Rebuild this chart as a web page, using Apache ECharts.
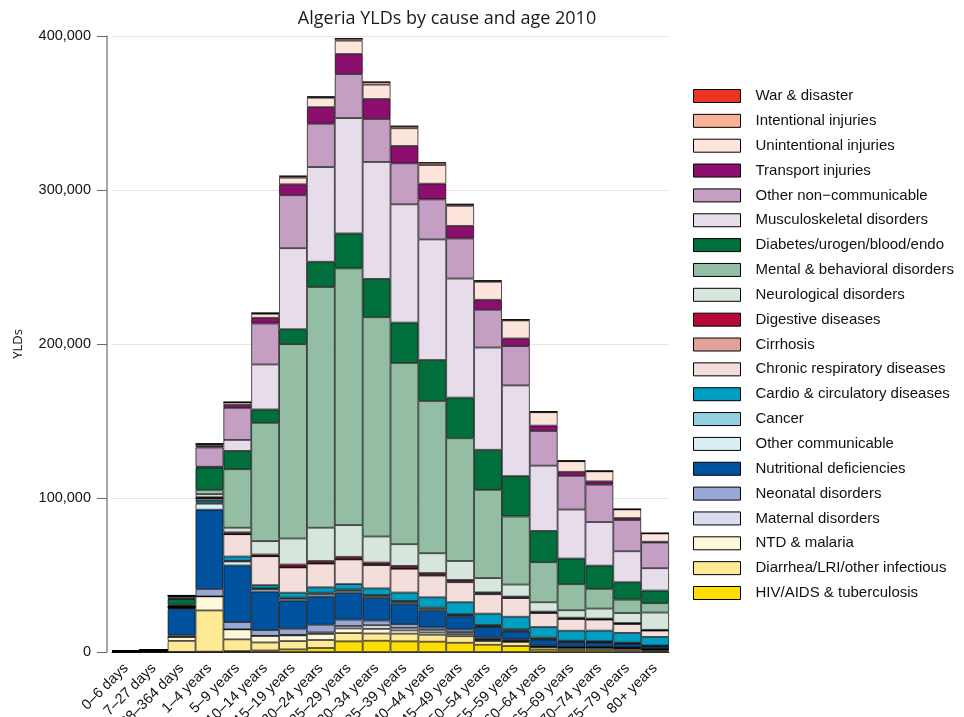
<!DOCTYPE html>
<html><head><meta charset="utf-8">
<script src="https://cdn.jsdelivr.net/npm/echarts@6/dist/echarts.min.js"></script>
<style>html,body{margin:0;padding:0;background:#fff}#c{width:964px;height:717px}</style>
</head><body><div id="c"></div>
<script>
const categories = ["0–6 days","7–27 days","28–364 days","1–4 years","5–9 years","10–14 years","15–19 years","20–24 years","25–29 years","30–34 years","35–39 years","40–44 years","45–49 years","50–54 years","55–59 years","60–64 years","65–69 years","70–74 years","75–79 years","80+ years"];
const yTicks = [0, 100000, 200000, 300000, 400000];

const hivTb        = [0,0,100,200,600,1000,1700,2600,6900,7300,6900,6700,6000,4700,3900,1500,1300,1300,1100,800];
const diarrheaLri  = [200,500,7100,26800,7600,5200,5400,5200,5400,4700,5000,4500,4300,2400,2600,1500,1300,1300,1100,700];
const ntdMalaria   = [100,200,2600,9100,6500,4300,3700,3900,3000,3000,2100,1500,1300,700,600,500,400,400,400,300];
const maternal     = [0,0,0,0,0,0,300,1000,1600,2400,1700,1700,1300,600,300,0,0,0,0,0];
const neonatal     = [300,400,1300,4800,4700,3700,4000,5000,4100,3000,2400,1500,1700,900,800,600,500,400,400,300];
const nutritional  = [100,400,16900,51500,36800,25100,18200,18400,17500,14700,13200,10800,8600,6900,5200,3900,2800,2600,2200,1500];
const otherComm    = [0,100,600,3900,2600,1500,1200,1400,1200,1100,1100,1100,700,500,500,500,400,400,400,300];
const cancer       = [0,0,200,800,400,500,800,1000,900,800,800,1000,600,800,800,800,600,600,500,300];
const cardio       = [0,0,300,1500,2800,2100,3200,3500,3500,4300,5400,6700,7800,7400,8200,6900,6500,6900,6300,5600];
const chronicResp  = [0,0,300,1300,14500,18800,16400,15400,16000,15100,15400,14100,13000,12600,12100,9100,7600,7100,5800,4100];
const cirrhosis    = [0,0,0,0,0,0,100,200,200,300,400,500,500,500,400,300,300,200,200,100];
const digestive    = [0,0,100,600,1200,1100,1800,1500,1500,1400,1500,1200,1000,700,600,600,600,500,400,400];
const neurological = [0,0,400,2000,3000,8700,16900,21600,20600,16900,14100,12800,12300,9300,7800,6100,4800,6500,6500,11200];
const mental       = [0,0,800,2800,38000,76800,126200,156300,166700,142400,117700,98900,79700,57300,44200,26000,16900,12800,8700,6100];
const diabetes     = [0,0,3700,14500,11900,8700,9700,16400,22700,24900,26200,26600,26400,26000,26200,20300,16700,15100,11300,8200];
const musculo      = [0,0,300,500,7100,29200,52600,61500,74900,75900,76800,78300,77300,66400,58900,42400,31800,28300,20100,14500];
const otherNonComm = [0,0,1200,12500,20800,26600,34400,28100,28600,27900,26600,26000,26000,24500,25500,22500,21900,24200,20300,16700];
const transport    = [0,0,200,1000,2000,3700,7100,10800,13000,13000,11300,10200,8200,6500,5000,3500,2600,2200,1300,500];
const unintentional= [0,0,600,1200,1500,2600,4300,6100,8700,9300,11500,12100,13000,11700,11700,8700,6900,6500,5600,5400];
const intentional  = [0,0,0,100,200,500,1000,600,1300,1700,1300,1500,1000,700,500,300,200,200,100,100];
const warDisaster  = [0,0,0,200,100,100,100,100,100,100,100,100,100,100,100,100,100,100,100,100];

const causeNames = ["HIV/AIDS & tuberculosis","Diarrhea/LRI/other infectious","NTD & malaria","Maternal disorders","Neonatal disorders","Nutritional deficiencies","Other communicable","Cancer","Cardio & circulatory diseases","Chronic respiratory diseases","Cirrhosis","Digestive diseases","Neurological disorders","Mental & behavioral disorders","Diabetes/urogen/blood/endo","Musculoskeletal disorders","Other non−communicable","Transport injuries","Unintentional injuries","Intentional injuries","War & disaster"];
const causeColors = ["#fedd00","#fee995","#fff7d9","#dadcef","#97a8d5","#00529e","#daeff3","#93cfe0","#009ec1","#f4dedb","#e2a299","#b30838","#d6e6dd","#93bea4","#006f3b","#e7dcea","#c59ec4","#8c0e6e","#fee5db","#fbb297","#eb3424"];
const causeData = [hivTb,diarrheaLri,ntdMalaria,maternal,neonatal,nutritional,otherComm,cancer,cardio,chronicResp,cirrhosis,digestive,neurological,mental,diabetes,musculo,otherNonComm,transport,unintentional,intentional,warDisaster];

const chart = echarts.init(document.getElementById('c'), null, {renderer:'canvas'});
const series = causeNames.map((n,i)=>({
  name:n, type:'bar', stack:'all', data:causeData[i], barCategoryGap:'0%',
  itemStyle:{color:causeColors[i], borderColor:'rgba(0,0,0,0.85)', borderWidth:0.8},
  emphasis:{disabled:true}
}));
chart.setOption({
  animation:false,
  backgroundColor:'#fff',
  title:{text:'Algeria YLDs by cause and age 2010', left:442, textAlign:'center', top:5,
    textStyle:{fontFamily:'Open Sans', fontSize:18, fontWeight:'normal', color:'#1a1a1a'}},
  grid:{left:112, right:295, top:36, bottom:65, containLabel:false, outerBoundsMode:'none'},
  legend:{orient:'vertical', left:688, top:83.5, itemWidth:47, itemHeight:13, itemGap:9.85,
    icon:'rect', data:causeNames.slice().reverse(),
    itemStyle:{borderColor:'#000', borderWidth:1},
    textStyle:{fontFamily:'Liberation Sans', fontSize:15, color:'#111', padding:[0,0,0,10]}},
  xAxis:{type:'category', data:categories,
    axisLine:{lineStyle:{color:'#333', width:1}},
    axisTick:{show:false},
    axisLabel:{rotate:45, interval:0, fontFamily:'Liberation Sans', fontSize:14.5, color:'#111', margin:14}},
  yAxis:{type:'value', min:0, max:400000, interval:100000, offset:5,
    name:'YLDs', nameLocation:'middle', nameGap:82, nameRotate:90,
    nameTextStyle:{fontFamily:'Open Sans', fontSize:13, color:'#111'},
    axisLine:{show:true, lineStyle:{color:'#888', width:1.5}},
    axisTick:{show:true, length:10, lineStyle:{color:'#666'}},
    axisLabel:{fontFamily:'Liberation Sans', fontSize:14.5, color:'#111', margin:16,
      formatter:v=>yTicks.includes(v)?v.toLocaleString('en-US'):''},
    splitLine:{lineStyle:{color:'#e6e6e6', width:1}}},
  series:series
});
</script></body></html>
